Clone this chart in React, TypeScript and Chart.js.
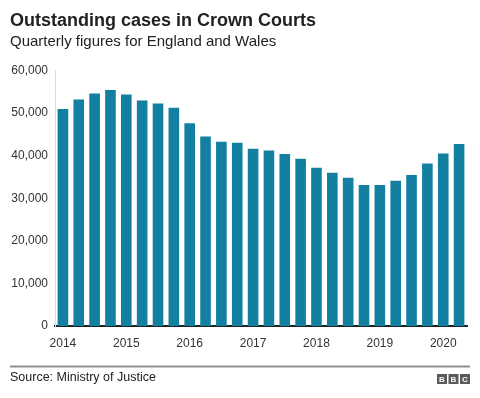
import React, { useEffect, useRef } from "react";
import { Chart, registerables } from "chart.js";

Chart.register(...registerables);

const quarters = [
  "2014 Q1", "2014 Q2", "2014 Q3", "2014 Q4",
  "2015 Q1", "2015 Q2", "2015 Q3", "2015 Q4",
  "2016 Q1", "2016 Q2", "2016 Q3", "2016 Q4",
  "2017 Q1", "2017 Q2", "2017 Q3", "2017 Q4",
  "2018 Q1", "2018 Q2", "2018 Q3", "2018 Q4",
  "2019 Q1", "2019 Q2", "2019 Q3", "2019 Q4",
  "2020 Q1", "2020 Q2",
];

const outstandingCases = [
  51000, 53200, 54600, 55450,
  54400, 52950, 52300, 51250,
  47650, 44500, 43300, 43050,
  41650, 41250, 40400, 39300,
  37200, 36000, 34850, 33100,
  33100, 34150, 35450, 38150,
  40550, 42750,
];

const yMin = 0;
const yMax = 60000;
const yStep = 10000;

const titleText = "Outstanding cases in Crown Courts";
const subtitleText = "Quarterly figures for England and Wales";
const sourceText = "Source: Ministry of Justice";
const logoLetters = ["B", "B", "C"];

const FONT = "'Liberation Sans', Arial, Helvetica, sans-serif";

const footerPlugin = {
  id: "bbcFooter",
  afterDraw(chart: any) {
    const ctx = chart.ctx;
    ctx.save();
    ctx.strokeStyle = "#8f8f8f";
    ctx.lineWidth = 2;
    ctx.beginPath();
    ctx.moveTo(10, 366.5);
    ctx.lineTo(470, 366.5);
    ctx.stroke();
    ctx.fillStyle = "#222";
    ctx.font = `12.5px ${FONT}`;
    ctx.textAlign = "left";
    ctx.textBaseline = "alphabetic";
    ctx.fillText(sourceText, 10, 381);
    const size = 10;
    const gap = 1.5;
    let x = 437;
    const y = 374;
    logoLetters.forEach((l) => {
      ctx.fillStyle = "#5a5a5a";
      ctx.fillRect(x, y, size, size);
      ctx.fillStyle = "#fff";
      ctx.font = `bold 8px ${FONT}`;
      ctx.textAlign = "center";
      ctx.textBaseline = "middle";
      ctx.fillText(l, x + size / 2, y + size / 2 + 0.5);
      x += size + gap;
    });
    ctx.restore();
  },
};

export default function App() {
  const ref = useRef<HTMLCanvasElement | null>(null);

  useEffect(() => {
    if (!ref.current) return;
    const chart = new Chart(ref.current, {
      type: "bar",
      data: {
        labels: quarters,
        datasets: [
          {
            label: "Outstanding cases",
            data: outstandingCases,
            backgroundColor: "#1380A1",
            borderWidth: 0,
            barPercentage: 0.67,
            categoryPercentage: 1,
          },
        ],
      },
      options: {
        responsive: false,
        animation: false,
        layout: { padding: { left: 10, right: 13, top: 0, bottom: 47 } },
        plugins: {
          legend: { display: false },
          tooltip: { enabled: false },
          title: {
            display: true,
            text: titleText,
            align: "start",
            color: "#222",
            font: { family: FONT, size: 18, weight: "bold", lineHeight: 1.2 },
            padding: { top: 10, bottom: 1 },
          },
          subtitle: {
            display: true,
            text: subtitleText,
            align: "start",
            color: "#222",
            font: { family: FONT, size: 15, weight: "normal", lineHeight: 1.2 },
            padding: { top: 0, bottom: 20 },
          },
        },
        scales: {
          x: {
            type: "category",
            grid: { display: false, drawTicks: false, tickLength: 0 },
            border: { display: true, color: "#222", width: 2 },
            afterFit: (scale: any) => {
              scale.height = 25;
            },
            ticks: {
              autoSkip: false,
              maxRotation: 0,
              minRotation: 0,
              padding: 10,
              color: "#333",
              font: { family: FONT, size: 12 },
              callback: function (_v: any, i: number) {
                const q = quarters[i];
                return q.endsWith("Q1") ? q.slice(0, 4) : "";
              },
            },
          },
          y: {
            min: yMin,
            max: yMax,
            grid: { display: false, drawTicks: false, tickLength: 0 },
            border: { display: true, color: "#dcdcdc", width: 1 },
            afterFit: (scale: any) => {
              scale.width = 45;
            },
            ticks: {
              stepSize: yStep,
              padding: 7,
              color: "#333",
              font: { family: FONT, size: 12 },
              callback: (v: any) => Number(v).toLocaleString("en-GB"),
            },
          },
        },
      },
      plugins: [footerPlugin],
    } as any);
    return () => chart.destroy();
  }, []);

  return (
    <div
      style={{
        position: "fixed",
        left: 0,
        top: 0,
        width: 480,
        height: 398,
        background: "#fff",
      }}
    >
      <canvas ref={ref} width={480} height={398} style={{ display: "block" }} />
    </div>
  );
}
